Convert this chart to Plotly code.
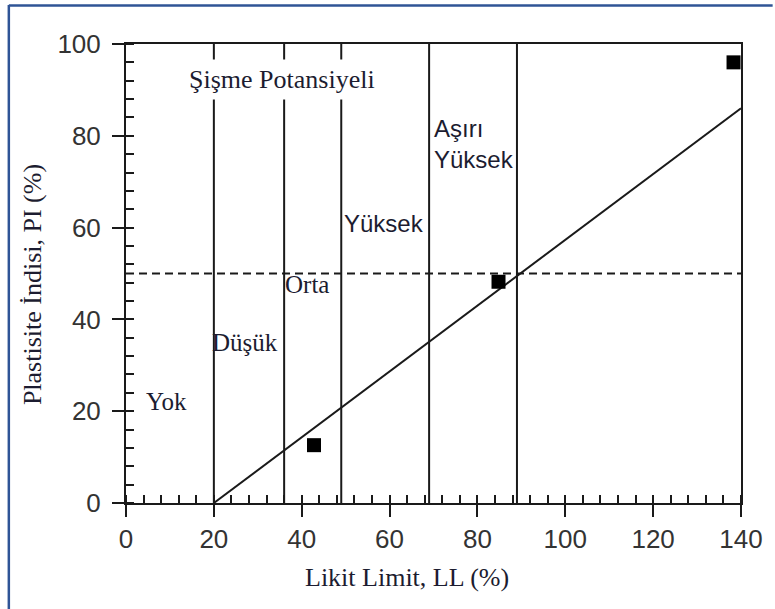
import plotly.graph_objects as go

# ---- data ----
boundaries_ll = [20, 36, 49, 69, 89]          # swelling-potential class limits (LL %)
samples_ll = [42.8, 84.8, 138.3]
samples_pi = [12.6, 48.2, 96.0]
trend_ll = [20, 140]
trend_pi = [0, 86]
pi_limit = 50
x_range = [0, 140]
y_range = [0, 100]

class_labels = ["Yok", "Düşük", "Orta"]
class_label_x = [9.3, 27.0, 41.3]
class_label_y = [22.2, 34.9, 47.7]

serif = "Liberation Serif"
sans = "Liberation Sans"
txt_col = "#1c1c30"
line_col = "#1a1a1a"

fig = go.Figure()

# vertical class boundaries
vx, vy = [], []
for b in boundaries_ll:
    vx += [b, b, None]
    vy += [y_range[0], y_range[1], None]
fig.add_trace(go.Scatter(x=vx, y=vy, mode="lines",
                         line=dict(color=line_col, width=2), hoverinfo="skip"))

# dashed PI = 50 line
fig.add_trace(go.Scatter(x=x_range, y=[pi_limit, pi_limit], mode="lines",
                         line=dict(color=line_col, width=2, dash="8px,5px"),
                         hoverinfo="skip"))

# trend line
fig.add_trace(go.Scatter(x=trend_ll, y=trend_pi, mode="lines",
                         line=dict(color=line_col, width=2), hoverinfo="skip"))

# samples
fig.add_trace(go.Scatter(x=samples_ll, y=samples_pi, mode="markers",
                         marker=dict(symbol="square", size=14, color="black")))

# overlay axes for inward part of major ticks
fig.add_trace(go.Scatter(x=[None], y=[None], xaxis="x2", yaxis="y2",
                         showlegend=False, hoverinfo="skip"))

tickfont = dict(family=sans, size=26, color="#333333")

fig.update_layout(
    width=775, height=609,
    margin=dict(l=126, r=27, t=44, b=106),
    paper_bgcolor="white", plot_bgcolor="white",
    showlegend=False,
    xaxis=dict(range=x_range, dtick=20, tick0=0, showgrid=False, zeroline=False,
               showline=True, linewidth=2, linecolor=line_col, mirror=True,
               ticks="outside", ticklen=12, tickwidth=2, tickcolor=line_col,
               tickfont=tickfont,
               minor=dict(dtick=4, ticks="inside", ticklen=8, tickwidth=1.5,
                          tickcolor=line_col, showgrid=False)),
    yaxis=dict(range=y_range, dtick=20, tick0=0, showgrid=False, zeroline=False,
               showline=True, linewidth=2, linecolor=line_col, mirror=True,
               ticks="outside", ticklen=12, tickwidth=2, tickcolor=line_col,
               tickfont=tickfont, ticklabelstandoff=6,
               minor=dict(dtick=4, ticks="inside", ticklen=8, tickwidth=1.5,
                          tickcolor=line_col, showgrid=False)),
    xaxis2=dict(range=x_range, overlaying="x", dtick=20, tick0=0, showgrid=False,
                zeroline=False, showline=False, ticks="inside", ticklen=8,
                tickwidth=2, tickcolor=line_col, showticklabels=False, side="bottom"),
    yaxis2=dict(range=y_range, overlaying="y", dtick=20, tick0=0, showgrid=False,
                zeroline=False, showline=False, ticks="inside", ticklen=8,
                tickwidth=2, tickcolor=line_col, showticklabels=False, side="left"),
)

annotations = []
for t, x, y in zip(class_labels, class_label_x, class_label_y):
    annotations.append(dict(x=x, y=y, xref="x", yref="y", text=t, showarrow=False,
                            font=dict(family=serif, size=25, color=txt_col)))
annotations.append(dict(x=58.7, y=60.8, xref="x", yref="y", text="Yüksek",
                        showarrow=False, font=dict(family=sans, size=24, color=txt_col)))
annotations.append(dict(x=69.6, y=78.2, xref="x", yref="y", text="Aşırı<br>Yüksek",
                        showarrow=False, xanchor="left", align="left",
                        font=dict(family=sans, size=24, color=txt_col)))
annotations.append(dict(x=35.6, y=92.2, xref="x", yref="y", text="Şişme Potansiyeli",
                        showarrow=False, bgcolor="white", borderpad=5,
                        font=dict(family=serif, size=26, color=txt_col)))
annotations.append(dict(x=64, y=-0.163, xref="x", yref="paper",
                        xanchor="center", yanchor="middle",
                        text="Likit Limit, LL (%)", showarrow=False,
                        font=dict(family=serif, size=26, color=txt_col)))
annotations.append(dict(x=-0.151, y=47.5, xref="paper", yref="y",
                        xanchor="center", yanchor="middle",
                        text="Plastisite İndisi, PI (%)", textangle=-90,
                        showarrow=False,
                        font=dict(family=serif, size=26, color=txt_col)))
fig.update_layout(annotations=annotations)

# outer blue frame (top and left edges of the picture)
frame_col = "#2F5496"
fig.add_shape(type="line", xref="paper", yref="paper",
              x0=(7.5 - 126) / 622, x1=(7.5 - 126) / 622,
              y0=(503 - 5) / 459, y1=(503 - 612) / 459,
              line=dict(color=frame_col, width=2.5))
fig.add_shape(type="line", xref="paper", yref="paper",
              x0=(7.5 - 126) / 622, x1=(780 - 126) / 622,
              y0=(503 - 5.5) / 459, y1=(503 - 5.5) / 459,
              line=dict(color=frame_col, width=2.5))

fig.write_html("out.html")
